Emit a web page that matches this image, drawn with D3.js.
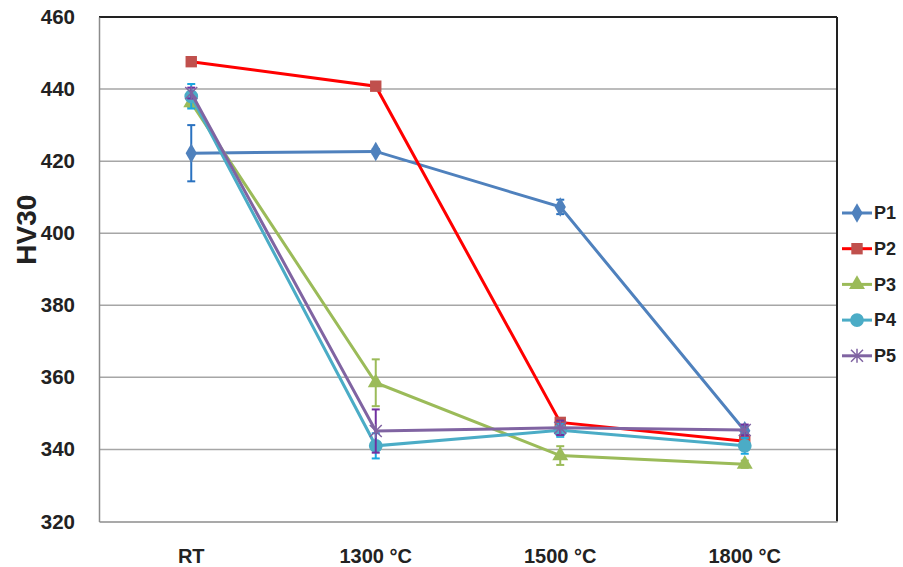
<!DOCTYPE html>
<html>
<head>
<meta charset="utf-8">
<script src="https://cdn.jsdelivr.net/npm/d3@7"></script>
<style>
  body { margin: 0; background: #fff; }
  text { font-family: "Liberation Sans", Arial, sans-serif; font-weight: bold; fill: #222; }
</style>
</head>
<body>
<div id="chart"></div>
<script>
// data
var categories = ["RT", "1300 °C", "1500 °C", "1800 °C"];
var seriesNames = ["P1", "P2", "P3", "P4", "P5"];
var p1 = [422.2, 422.7, 407.3, 345.2];
var p2 = [447.6, 440.8, 347.5, 342.3];
var p3 = [436.2, 358.5, 338.3, 335.9];
var p4 = [438.0, 341.0, 345.3, 341.0];
var p5 = [438.9, 345.1, 346.0, 345.4];
var p1Err = [7.8, 0.6, 2.0, 1.2];
var p2Err = [0.5, 0.5, 1.2, 1.5];
var p3Err = [1.2, 6.5, 2.6, 1.0];
var p4Err = [3.4, 3.5, 1.8, 2.2];
var p5Err = [1.5, 6.0, 2.0, 1.5];
var yTicks = [320, 340, 360, 380, 400, 420, 440, 460];

var svgWidth = 903, svgHeight = 567;
var margin = { top: 17, left: 99, right: 66, bottom: 45.5 };
var chartWidth = svgWidth - margin.left - margin.right;
var chartHeight = svgHeight - margin.top - margin.bottom;

var svg = d3.select("#chart").append("svg")
    .attr("width", svgWidth)
    .attr("height", svgHeight);

var chartGroup = svg.append("g")
    .attr("transform", `translate(${margin.left}, ${margin.top})`);

var xScale = d3.scaleBand().domain(categories).range([0, chartWidth]).padding(0);
var yScale = d3.scaleLinear().domain([320, 460]).range([chartHeight, 0]);
var xc = d => xScale(d) + xScale.bandwidth() / 2;

// gridlines
chartGroup.selectAll(".grid")
    .data(yTicks.slice(1, -1))
    .enter().append("line")
    .attr("x1", 0).attr("x2", chartWidth)
    .attr("y1", d => yScale(d)).attr("y2", d => yScale(d))
    .attr("stroke", "#a6a6a6").attr("stroke-width", 1.5);

// plot frame: top/right dark, left/bottom grey axes
chartGroup.append("line").attr("x1", 0).attr("x2", chartWidth).attr("y1", 0).attr("y2", 0)
    .attr("stroke", "#222").attr("stroke-width", 2);
chartGroup.append("line").attr("x1", chartWidth).attr("x2", chartWidth).attr("y1", 0).attr("y2", chartHeight)
    .attr("stroke", "#222").attr("stroke-width", 2);

// y axis
var leftAxis = d3.axisLeft(yScale).tickValues(yTicks).tickSize(0).tickPadding(24);
var yAxisG = chartGroup.append("g").call(leftAxis);
yAxisG.select(".domain").attr("stroke", "#8c8c8c").attr("stroke-width", 1.5);
yAxisG.selectAll("text").style("font-size", "20.5px").attr("fill", "#222");

// x axis
var bottomAxis = d3.axisBottom(xScale).tickSize(0).tickPadding(27);
var xAxisG = chartGroup.append("g").attr("transform", `translate(0, ${chartHeight})`).call(bottomAxis);
xAxisG.select(".domain").attr("stroke", "#8c8c8c").attr("stroke-width", 1.5);
xAxisG.selectAll("text").style("font-size", "20px").attr("fill", "#222");

// y title
svg.append("text")
    .attr("transform", `translate(36, ${margin.top + yScale(401)}) rotate(-90)`)
    .attr("text-anchor", "middle")
    .style("font-size", "28px")
    .text("HV30");

var series = [
    { name: "P1", values: p1, err: p1Err, line: "#4f81bd", fill: "#4f81bd", errColor: "#2a72c0", shape: "diamond" },
    { name: "P2", values: p2, err: p2Err, line: "#ff0000", fill: "#c0504d", errColor: "#ff0000", shape: "square" },
    { name: "P3", values: p3, err: p3Err, line: "#9bbb59", fill: "#9bbb59", errColor: "#9bbb59", shape: "triangle" },
    { name: "P4", values: p4, err: p4Err, line: "#4bacc6", fill: "#4bacc6", errColor: "#1aa7e0", shape: "circle" },
    { name: "P5", values: p5, err: p5Err, line: "#8064a2", fill: "#8064a2", errColor: "#7030a0", shape: "star" }
];

function markerPath(shape) {
    if (shape == "diamond") return d3.symbol(d3.symbolDiamond, 110)();
    if (shape == "square") return d3.symbol(d3.symbolSquare, 130)();
    if (shape == "triangle") return d3.symbol(d3.symbolTriangle, 110)();
    if (shape == "circle") return d3.symbol(d3.symbolCircle, 150)();
    return "M-6,-6L6,6M-6,6L6,-6M0,-7L0,7";
}

var line = d3.line().x(d => xc(d.c)).y(d => yScale(d.v));

series.forEach(function(s) {
    var pts = categories.map((c, i) => ({ c: c, v: s.values[i], e: s.err[i] }));
    var g = chartGroup.append("g");

    // error bars
    var eb = g.selectAll(".err").data(pts).enter().append("g");
    eb.append("line")
        .attr("x1", d => xc(d.c)).attr("x2", d => xc(d.c))
        .attr("y1", d => yScale(d.v - d.e)).attr("y2", d => yScale(d.v + d.e))
        .attr("stroke", s.errColor).attr("stroke-width", 2);
    [-1, 1].forEach(function(sign) {
        eb.append("line")
            .attr("x1", d => xc(d.c) - 4).attr("x2", d => xc(d.c) + 4)
            .attr("y1", d => yScale(d.v + sign * d.e)).attr("y2", d => yScale(d.v + sign * d.e))
            .attr("stroke", s.errColor).attr("stroke-width", 2);
    });

    g.append("path").datum(pts)
        .attr("d", line)
        .attr("fill", "none")
        .attr("stroke", s.line)
        .attr("stroke-width", 3);

    g.selectAll(".mark").data(pts).enter().append("path")
        .attr("transform", d => `translate(${xc(d.c)}, ${yScale(d.v)})`)
        .attr("d", markerPath(s.shape))
        .attr("fill", s.shape == "star" ? "none" : s.fill)
        .attr("stroke", s.shape == "star" ? s.fill : "none")
        .attr("stroke-width", 1.5);
});

// legend
var legend = svg.append("g").attr("transform", "translate(842, 213)");
var legItem = legend.selectAll(".leg").data(series).enter().append("g")
    .attr("transform", (d, i) => `translate(0, ${i * 35.7})`);
legItem.append("line")
    .attr("x1", 0).attr("x2", 30).attr("y1", 0).attr("y2", 0)
    .attr("stroke", d => d.line).attr("stroke-width", 3);
legItem.append("path")
    .attr("transform", "translate(15, 0)")
    .attr("d", d => markerPath(d.shape))
    .attr("fill", d => d.shape == "star" ? "none" : d.fill)
    .attr("stroke", d => d.shape == "star" ? d.fill : "none")
    .attr("stroke-width", 1.5);
legItem.append("text")
    .attr("x", 32).attr("y", 0).attr("dy", "0.35em")
    .style("font-size", "18px")
    .text(d => d.name);
</script>
</body>
</html>
